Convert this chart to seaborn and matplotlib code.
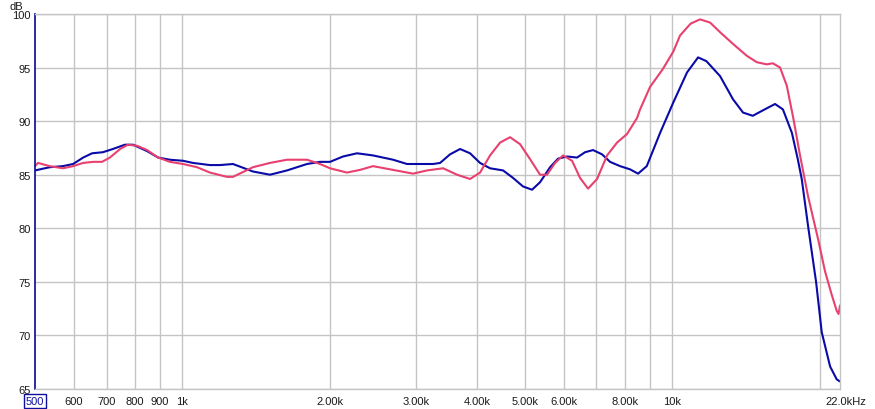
import matplotlib
matplotlib.use("Agg")
import matplotlib.pyplot as plt
import seaborn as sns
import pandas as pd

# ---- data ----
blue_freq = [500, 536, 570, 598, 627, 654, 688, 721, 763, 793, 847, 892, 943, 1003, 1051,
             1138, 1193, 1268, 1393, 1509, 1635, 1796, 1909, 2001, 2127, 2272, 2449, 2691,
             2874, 3056, 3249, 3357, 3518, 3688, 3865, 4051, 4246, 4514, 4731, 4959, 5173,
             5371, 5630, 5846, 6099, 6391, 6636, 6891, 7189, 7464, 7824, 8201, 8515, 8870,
             9443, 10050, 10720, 11290, 11740, 12521, 13300, 13946, 14600, 15300, 16211,
             16820, 17550, 18050, 18378, 18962, 19660, 20190, 21000, 21665, 22000]
blue_db = [85.4, 85.7, 85.8, 86.0, 86.6, 87.0, 87.1, 87.4, 87.8, 87.8, 87.2, 86.6, 86.4, 86.3,
           86.1, 85.9, 85.9, 86.0, 85.3, 85.0, 85.4, 86.0, 86.2, 86.2, 86.7, 87.0, 86.8, 86.4,
           86.0, 86.0, 86.0, 86.1, 86.9, 87.4, 87.0, 86.1, 85.6, 85.4, 84.7, 83.9, 83.6, 84.3,
           85.7, 86.5, 86.7, 86.6, 87.1, 87.3, 86.9, 86.2, 85.8, 85.5, 85.1, 85.8, 88.9, 91.75,
           94.55, 95.95, 95.6, 94.2, 92.05, 90.8, 90.5, 91.0, 91.6, 91.1, 88.9, 86.4, 84.6,
           80.0, 75.0, 70.3, 67.1, 65.9, 65.7]

pink_freq = [500, 507, 536, 570, 598, 627, 657, 685, 711, 746, 774, 808, 847, 892, 943, 1003,
             1071, 1138, 1233, 1268, 1393, 1509, 1635, 1796, 1909, 2001, 2167, 2304, 2449,
             2691, 2957, 3158, 3405, 3636, 3865, 4051, 4246, 4451, 4665, 4889, 5125, 5371,
             5551, 5764, 5985, 6244, 6482, 6731, 7022, 7360, 7714, 8085, 8475, 8596, 9009,
             9443, 9577, 10050, 10374, 10900, 11397, 11946, 12521, 13309, 14195, 14880,
             15595, 16040, 16600, 17134, 17677, 18232, 18930, 19866, 20501, 21158, 21661,
             21855, 22000]
pink_db = [85.8, 86.1, 85.8, 85.6, 85.8, 86.1, 86.2, 86.2, 86.6, 87.4, 87.8, 87.7, 87.3, 86.6,
           86.2, 86.0, 85.7, 85.2, 84.8, 84.8, 85.7, 86.1, 86.4, 86.4, 86.0, 85.6, 85.2, 85.45,
           85.8, 85.45, 85.1, 85.4, 85.6, 85.0, 84.6, 85.2, 86.8, 88.0, 88.5, 87.85, 86.45,
           85.0, 85.0, 86.1, 86.8, 86.3, 84.7, 83.7, 84.6, 86.8, 88.0, 88.8, 90.3, 91.1, 93.2,
           94.5, 94.9, 96.5, 98.0, 99.1, 99.5, 99.2, 98.3, 97.2, 96.1, 95.5, 95.3, 95.4, 95.0,
           93.3, 90.2, 86.8, 83.0, 78.9, 76.0, 73.8, 72.3, 72.0, 72.8]

grid_x = [600, 700, 800, 900, 1000, 2000, 3000, 4000, 5000, 6000, 7000, 8000, 9000, 10000, 20000]
x_tick_vals = [500, 600, 700, 800, 900, 1000, 2000, 3000, 4000, 5000, 6000, 7000, 8000, 9000, 10000, 20000]
x_tick_labels = ["500", "600", "700", "800", "900", "1k", "2.00k", "3.00k", "4.00k", "5.00k",
                 "6.00k", "", "8.00k", "", "10k", ""]
y_ticks = [65, 70, 75, 80, 85, 90, 95, 100]

# ---- plotting ----
sns.set_style("white")
plt.rcParams["font.family"] = ["Liberation Sans", "DejaVu Sans"]

df = pd.concat([
    pd.DataFrame({"freq": blue_freq, "db": blue_db, "series": "A"}),
    pd.DataFrame({"freq": pink_freq, "db": pink_db, "series": "B"}),
])

fig = plt.figure(figsize=(8.75, 4.10), dpi=100)
ax = fig.add_axes([35 / 875, 20 / 410, 805 / 875, 375 / 410])

ax.set_xscale("log")
ax.set_xlim(500, 22000)
ax.set_ylim(65, 100)

grid_col = "#c4c4c4"
for gx in grid_x:
    ax.axvline(gx, color=grid_col, lw=1.0, zorder=0)
for gy in y_ticks:
    ax.axhline(gy, color=grid_col, lw=1.0, zorder=0)

sns.lineplot(data=df, x="freq", y="db", hue="series", palette={"A": "#0a0aa8", "B": "#e8406f"},
             hue_order=["A", "B"], sort=False, estimator=None, lw=1.5, legend=False, ax=ax,
             solid_joinstyle="round", solid_capstyle="round")

ax.set_xlabel("")
ax.set_ylabel("")
ax.xaxis.set_minor_locator(matplotlib.ticker.NullLocator())
ax.set_xticks(x_tick_vals)
ax.set_xticklabels(x_tick_labels)
ax.set_yticks(y_ticks)
ax.set_yticklabels([str(v) for v in y_ticks])
ax.tick_params(axis="both", length=0, labelsize=8, labelcolor="#1a1a1a")
ax.tick_params(axis="x", pad=5)
ax.tick_params(axis="y", pad=3)

lbl500 = ax.get_xticklabels()[0]
lbl500.set_color("#1010a0")
lbl500.set_bbox(dict(facecolor="none", edgecolor="#1010a0", linewidth=1.0, pad=1.2))

ax.annotate("22.0kHz", xy=(22000, 0), xycoords=("data", "axes fraction"),
            xytext=(-15, -12), textcoords="offset pixels", ha="left", va="center",
            fontsize=8, color="#1a1a1a")

for side in ["top", "right", "bottom"]:
    ax.spines[side].set_color(grid_col)
    ax.spines[side].set_linewidth(1.0)
ax.spines["left"].set_color("#1a1a9a")
ax.spines["left"].set_linewidth(1.3)

fig.text(16 / 875, 1 - 7 / 410, "dB", ha="center", va="center", fontsize=8, color="#1a1a1a")

fig.savefig("out.png", dpi=100)
